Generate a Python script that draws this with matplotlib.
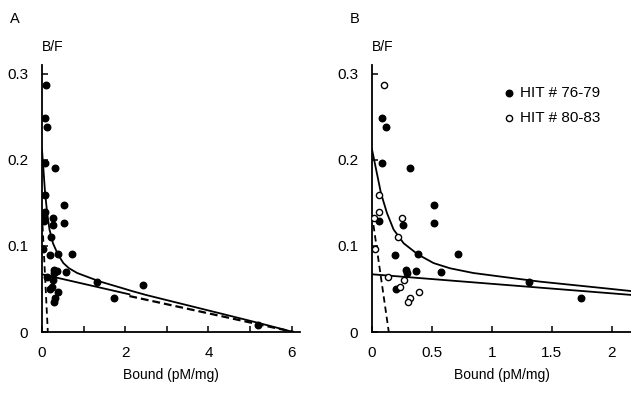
import numpy as np
import matplotlib
matplotlib.use('Agg')
import matplotlib.pyplot as plt

plt.rcParams['font.family'] = ['Liberation Sans', 'DejaVu Sans']

# HIT # 76-79 (filled) and HIT # 80-83 (open), bound vs B/F
hit76_x = [0.083, 0.114, 0.08, 0.32, 0.058, 0.52, 0.517, 0.258, 0.189, 0.383,
           0.714, 0.286, 0.29, 0.364, 0.575, 0.20, 1.31, 1.74, 2.43, 5.2]
hit76_y = [0.249, 0.238, 0.196, 0.190, 0.129, 0.148, 0.126, 0.124, 0.089, 0.090,
           0.090, 0.072, 0.069, 0.071, 0.070, 0.050, 0.058, 0.039, 0.055, 0.008]
hit80_x = [0.097, 0.061, 0.061, 0.014, 0.253, 0.214, 0.028, 0.131, 0.264,
           0.23, 0.389, 0.32, 0.297]
hit80_y = [0.287, 0.159, 0.139, 0.132, 0.132, 0.110, 0.096, 0.064, 0.060,
           0.052, 0.047, 0.040, 0.035]

# fitted curves
curve_x = [0.0, 0.075, 0.125, 0.18, 0.264, 0.383, 0.514, 0.65, 0.845, 1.12,
           1.40, 1.68, 1.96, 2.15, 2.5, 3.0, 3.5, 4.0, 4.5, 5.0, 5.5, 6.0]
curve_y = [0.212, 0.161, 0.138, 0.119, 0.103, 0.090, 0.080, 0.074, 0.0685, 0.0635,
           0.0585, 0.0545, 0.0505, 0.0477, 0.043, 0.037, 0.031, 0.025, 0.019, 0.013,
           0.0068, 0.0005]
low_x = [0.0, 6.05]
low_y = [0.067, 0.0]
high_x = [0.0, 0.14]
high_y = [0.136, 0.0]
# in panel A the low-affinity line turns dashed past ~2
low_split = 2.1

LW = 1.3

fig = plt.figure(figsize=(6.31, 3.93), dpi=100)
axA = fig.add_axes([42 / 631, 61 / 393, 258 / 631, 267 / 393])
axB = fig.add_axes([372 / 631, 61 / 393, 259 / 631, 267 / 393])

for ax in (axA, axB):
    ax.spines['top'].set_visible(False)
    ax.spines['right'].set_visible(False)
    for s in ('left', 'bottom'):
        ax.spines[s].set_linewidth(1.3)
    ax.tick_params(direction='in', length=4, width=1.1, labelsize=11, pad=10)
    ax.tick_params(axis='y', pad=10)
    ax.set_ylim(0, 0.31)
    ax.set_yticks([0, 0.1, 0.2, 0.3])
    ax.set_yticklabels(['0', '0.1', '0.2', '0.3'])
    ax.set_xlabel('Bound (pM/mg)', fontsize=10, labelpad=6)
    ax.text(0.0, 1.04, 'B/F', transform=ax.transAxes, fontsize=10, ha='left', va='bottom')
    ax.plot(curve_x, curve_y, color='black', lw=LW)
    ax.plot(high_x, high_y, color='black', lw=LW, ls=(0, (3.5, 2.2)))

# panel A
axA.set_xlim(0, 6.2)
axA.set_xticks(np.arange(0, 7, 1))
axA.set_xticklabels(['0', '', '2', '', '4', '', '6'])
la = np.array(low_x)
lb = np.array(low_y)
ysplit = np.interp(low_split, la, lb)
axA.plot([la[0], low_split], [lb[0], ysplit], color='black', lw=LW)
axA.plot([low_split, la[1]], [ysplit - 0.002, lb[1]], color='black', lw=1.6, ls=(0, (3.5, 1.8)))
axA.scatter(hit76_x + hit80_x, hit76_y + hit80_y, s=22, color='black', zorder=3)
fig.text(10 / 631, 1 - 19 / 393, 'A', fontsize=10.5, va='center')

# panel B
axB.set_xlim(0, 2.16)
axB.set_xticks([0, 0.5, 1, 1.5, 2])
axB.set_xticklabels(['0', '0.5', '1', '1.5', '2'])
axB.plot(low_x, low_y, color='black', lw=LW)
axB.scatter(hit76_x, hit76_y, s=22, color='black', zorder=3, label='HIT # 76-79')
axB.scatter(hit80_x, hit80_y, s=20, facecolor='white', edgecolor='black', lw=1.0,
            zorder=3, label='HIT # 80-83')
axB.legend(loc='upper left', bbox_to_anchor=(0.47, 0.95), frameon=False, fontsize=11,
           handletextpad=0.2, labelspacing=0.75, borderpad=0, handlelength=1.0)
fig.text(350 / 631, 1 - 19 / 393, 'B', fontsize=10.5, va='center')

fig.savefig('out.png', dpi=100)
